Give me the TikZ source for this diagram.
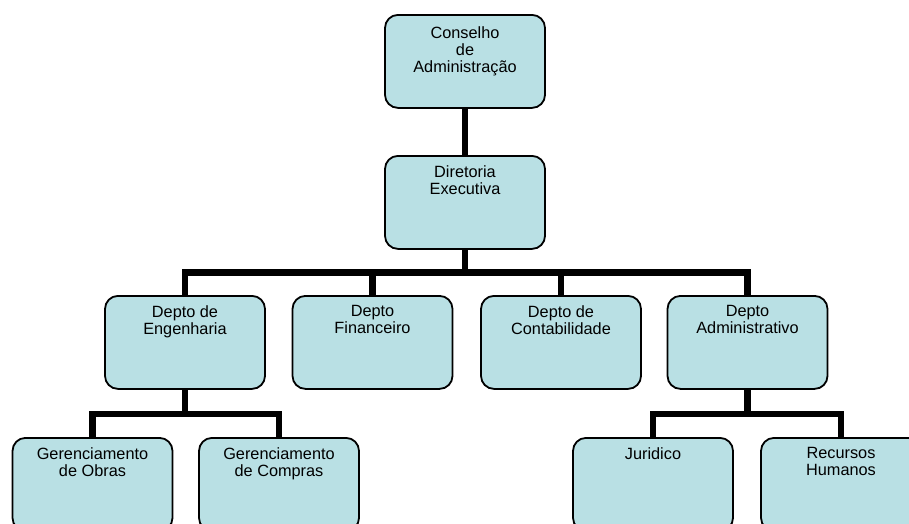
\documentclass[tikz,border=0pt]{standalone}
\usepackage{fontspec}
\setmainfont{Liberation Sans}
\definecolor{boxfill}{RGB}{185,224,228}
\begin{document}
\begin{tikzpicture}[x=1pt,y=-1pt,
  orgbox/.style={draw=black, line width=1.8pt, fill=boxfill, rounded corners=13pt,
    minimum width=160pt, minimum height=93pt, inner sep=0pt, anchor=north},
  boxtext/.style={anchor=north, align=center, inner sep=0pt,
    font=\fontsize{16.3}{17}\selectfont},
  link/.style={line width=6.5pt, draw=black}]
\useasboundingbox (0,0) rectangle (909,523);
\clip (0,0) rectangle (909,523);
% boxes
\node[orgbox] (cons) at (465,14) {};
\node[orgbox] (dir) at (465,155) {};
\node[orgbox] (eng) at (185,295) {};
\node[orgbox] (fin) at (372.5,295) {};
\node[orgbox] (cont) at (561,295) {};
\node[orgbox] (adm) at (747.5,295) {};
\node[orgbox] (obras) at (92.5,437) {};
\node[orgbox] (compras) at (279,437) {};
\node[orgbox] (jur) at (653,437) {};
\node[orgbox] (rh) at (841,437) {};
% texts
\node[boxtext] (cons-t) at ([yshift=-12pt]cons.north) {Conselho\\de\\Administração};
\node[boxtext] (dir-t) at ([yshift=-10pt]dir.north) {Diretoria\\Executiva};
\node[boxtext] (eng-t) at ([yshift=-10pt]eng.north) {Depto de\\Engenharia};
\node[boxtext] (fin-t) at ([yshift=-10pt]fin.north) {Depto\\Financeiro};
\node[boxtext] (cont-t) at ([yshift=-10pt]cont.north) {Depto de\\Contabilidade};
\node[boxtext] (adm-t) at ([yshift=-10pt]adm.north) {Depto\\Administrativo};
\node[boxtext] (obras-t) at ([yshift=-10pt]obras.north) {Gerenciamento\\de Obras};
\node[boxtext] (compras-t) at ([yshift=-10pt]compras.north) {Gerenciamento\\de Compras};
\node[boxtext] (jur-t) at ([yshift=-10pt]jur.north) {Juridico};
\node[boxtext] (rh-t) at ([yshift=-10pt]rh.north) {Recursos\\Humanos};
% connectors
\draw[link] (cons.south) -- (dir.north);
\draw[link] (dir.south) -- ++(0,22.5) -| (eng.north);
\draw[link] (dir.south) -- ++(0,22.5) -| (fin.north);
\draw[link] (dir.south) -- ++(0,22.5) -| (cont.north);
\draw[link] (dir.south) -- ++(0,22.5) -| (adm.north);
\draw[link] (eng.south) -- ++(0,24) -| (obras.north);
\draw[link] (eng.south) -- ++(0,24) -| (compras.north);
\draw[link] (adm.south) -- ++(0,24) -| (jur.north);
\draw[link] (adm.south) -- ++(0,24) -| (rh.north);
\end{tikzpicture}
\end{document}
